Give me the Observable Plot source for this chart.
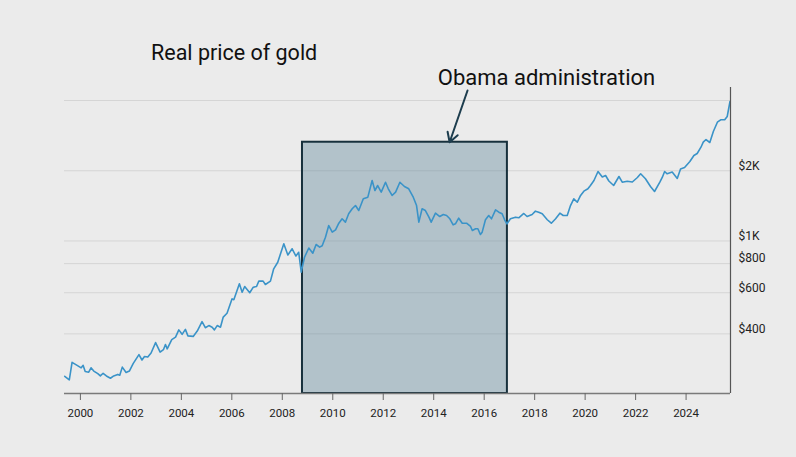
<!DOCTYPE html>
<html>
<head>
<meta charset="utf-8">
<script src="https://cdn.jsdelivr.net/npm/d3@7"></script>
<script src="https://cdn.jsdelivr.net/npm/@observablehq/plot@0.6"></script>
<style>
  html, body { margin: 0; padding: 0; background: #ebebeb; }
  #wrap { position: relative; width: 796px; height: 457px; overflow: hidden; }
  #title { position: absolute; left: 151px; top: 40px; font-family: Roboto, sans-serif; font-size: 21.5px; color: #111; white-space: nowrap; }
</style>
</head>
<body>
<div id="wrap">
  <div id="title">Real price of gold</div>
</div>
<script>
// Real gold price (USD, log scale)
const years = [
  1999.38, 1999.56, 1999.67, 1999.87, 2000.03, 2000.11, 2000.19, 2000.33, 2000.42, 2000.53,
  2000.69, 2000.79, 2000.90, 2001.03, 2001.19, 2001.32, 2001.48, 2001.56, 2001.66, 2001.81,
  2001.94, 2002.09, 2002.32, 2002.44, 2002.54, 2002.67, 2002.80, 2002.98, 2003.16, 2003.29,
  2003.37, 2003.44, 2003.62, 2003.77, 2003.90, 2004.03, 2004.16, 2004.26, 2004.47, 2004.63,
  2004.82, 2004.95, 2005.09, 2005.22, 2005.31, 2005.42, 2005.55, 2005.66, 2005.81, 2006.01,
  2006.08, 2006.30, 2006.41, 2006.51, 2006.71, 2006.85, 2006.98, 2007.07, 2007.24, 2007.33,
  2007.53, 2007.66, 2007.82, 2008.06, 2008.22, 2008.39, 2008.54, 2008.65, 2008.75, 2008.88,
  2009.05, 2009.21, 2009.34, 2009.48, 2009.58, 2009.71, 2009.84, 2009.98, 2010.11, 2010.24,
  2010.37, 2010.50, 2010.63, 2010.77, 2010.90, 2011.03, 2011.21, 2011.39, 2011.56, 2011.67,
  2011.78, 2011.92, 2012.09, 2012.20, 2012.35, 2012.49, 2012.66, 2012.84, 2013.01, 2013.19,
  2013.32, 2013.41, 2013.54, 2013.67, 2013.81, 2013.90, 2014.07, 2014.24, 2014.38, 2014.51,
  2014.64, 2014.77, 2014.86, 2014.99, 2015.13, 2015.30, 2015.46, 2015.53, 2015.66, 2015.75,
  2015.85, 2015.92, 2016.05, 2016.18, 2016.29, 2016.45, 2016.58, 2016.71, 2016.81, 2016.90,
  2017.04, 2017.24, 2017.37, 2017.57, 2017.70, 2017.90, 2018.03, 2018.16, 2018.30, 2018.50,
  2018.66, 2018.83, 2019.00, 2019.13, 2019.29, 2019.42, 2019.55, 2019.69, 2019.82, 2019.95,
  2020.11, 2020.21, 2020.35, 2020.51, 2020.68, 2020.81, 2020.94, 2021.13, 2021.34, 2021.47,
  2021.67, 2021.87, 2022.07, 2022.20, 2022.39, 2022.59, 2022.75, 2022.96, 2023.06, 2023.15,
  2023.25, 2023.45, 2023.65, 2023.78, 2023.94, 2024.15, 2024.31, 2024.44, 2024.59, 2024.68,
  2024.79, 2024.94, 2025.08, 2025.24, 2025.37, 2025.53, 2025.63, 2025.74
];
const prices = [
  263, 254, 302, 293, 286, 293, 276, 274, 286, 277,
  270, 264, 271, 264, 258, 264, 268, 266, 288, 273,
  277, 298, 326, 309, 320, 318, 331, 367, 334, 342,
  360, 345, 378, 387, 416, 398, 418, 392, 390, 411,
  451, 425, 434, 427, 416, 434, 427, 472, 490, 565,
  560, 656, 603, 638, 600, 634, 638, 673, 673, 651,
  673, 760, 811, 973, 871, 926, 862, 895, 735, 852,
  933, 887, 966, 941, 954, 1038, 1165, 1091, 1117, 1192,
  1245, 1204, 1308, 1374, 1419, 1351, 1516, 1541, 1817, 1646,
  1729, 1619, 1786, 1674, 1567, 1619, 1786, 1712, 1674, 1541,
  1419, 1204, 1374, 1351, 1265, 1204, 1316, 1273, 1299, 1286,
  1245, 1173, 1185, 1252, 1192, 1192, 1154, 1109, 1128, 1128,
  1066, 1091, 1233, 1286, 1245, 1360, 1329, 1308, 1233, 1183,
  1245, 1265, 1257, 1312, 1273, 1299, 1342, 1329, 1308, 1233,
  1192, 1245, 1316, 1286, 1286, 1419, 1516, 1466, 1567, 1635,
  1674, 1729, 1817, 1985, 1880, 1908, 1808, 1729, 1890, 1786,
  1804, 1790, 1871, 1941, 1847, 1712, 1630, 1786, 1877, 1985,
  1941, 1976, 1853, 2035, 2065, 2191, 2325, 2371, 2523, 2651,
  2722, 2643, 2946, 3229, 3306, 3306, 3416, 3961
];

const xDomain = [1999.37, 2025.76];
const yDomain = [222, 4548];
const xTicks = [2000, 2002, 2004, 2006, 2008, 2010, 2012, 2014, 2016, 2018, 2020, 2022, 2024];
const yTicks = [400, 600, 800, 1000, 2000];
const yTickLabels = ["$400", "$600", "$800", "$1K", "$2K"];
const gridValues = [400, 600, 800, 1000, 2000, 4000];

// Obama administration box and annotation
const obamaStart = [2008.8];
const obamaEnd = [2016.92];
const boxTop = [2650];
const annoLabel = ["Obama administration"];
const annoTextX = [2018.47];
const annoTextY = [5000];
const arrowFromX = [2015.34];
const arrowFromY = [4415];
const arrowToX = [2014.63];
const arrowToY = [2650];

const data = years.map((year, i) => ({year, price: prices[i]}));
const box = obamaStart.map((s, i) => ({x1: s, x2: obamaEnd[i], y1: yDomain[0], y2: boxTop[i]}));
const anno = annoLabel.map((t, i) => ({t, x: annoTextX[i], y: annoTextY[i]}));
const arrows = arrowFromX.map((x, i) => ({x1: x, y1: arrowFromY[i], x2: arrowToX[i], y2: arrowToY[i]}));

const chart = Plot.plot({
  width: 796,
  height: 457,
  marginTop: 87,
  marginBottom: 64,
  marginLeft: 64,
  marginRight: 66,
  style: {background: "transparent", fontFamily: "Roboto, sans-serif", fontSize: "11.5px", color: "#222", overflow: "visible"},
  x: {domain: xDomain},
  y: {type: "log", domain: yDomain},
  marks: [
    Plot.ruleY(gridValues, {stroke: "#d5d5d5", strokeWidth: 1}),
    Plot.rect(box, {x1: "x1", x2: "x2", y1: "y1", y2: "y2", fill: "#5d8499", fillOpacity: 0.4, stroke: "#17303c", strokeWidth: 2}),
    Plot.line(data, {x: "year", y: "price", stroke: "#3a93c8", strokeWidth: 1.6}),
    Plot.ruleY([yDomain[0]], {stroke: "#7a7a7a", strokeWidth: 1.5}),
    Plot.ruleX([xDomain[1]], {stroke: "#555", strokeWidth: 1.2}),
    Plot.axisX({ticks: xTicks, tickFormat: d => String(d), tickSize: 7, tickPadding: 8, stroke: "#666", fill: "#222"}),
    Plot.axisY({anchor: "right", ticks: yTicks, tickFormat: (d) => yTickLabels[yTicks.indexOf(d)], tickSize: 0, tickPadding: 8, dy: -5, fill: "#222", fontSize: 12}),
    Plot.text(anno, {x: "x", y: "y", text: "t", fontSize: 22, fill: "#111", textAnchor: "middle"}),
    Plot.arrow(arrows, {x1: "x1", y1: "y1", x2: "x2", y2: "y2", stroke: "#1d3d4e", strokeWidth: 2, headLength: 8})
  ]
});
chart.style.position = "absolute";
chart.style.left = "0";
chart.style.top = "0";
document.getElementById("wrap").prepend(chart);
</script>
</body>
</html>
